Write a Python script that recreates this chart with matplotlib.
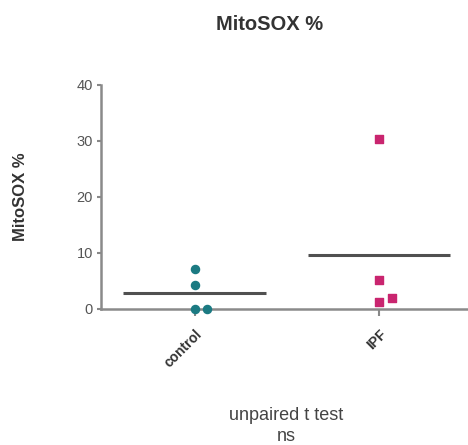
import numpy as np
import matplotlib.pyplot as plt

plt.rcParams['font.family'] = ['Liberation Sans', 'DejaVu Sans']

groups = ["control", "IPF"]
control_vals = [7.2, 4.2, 0.0, 0.0]
ipf_vals = [30.3, 5.1, 1.2, 1.9]
# horizontal scatter so overlapping points stay visible
control_jit = [0.0, 0.0, 0.0, 0.065]
ipf_jit = [0.0, 0.0, 0.0, 0.07]

fig = plt.figure(figsize=(4.68, 4.45), dpi=100)
ax = fig.add_axes([0.216, 0.306, 0.784, 0.503])

teal = "#1b7a82"
pink = "#c9256f"
ax.scatter(np.array(control_jit) + 0, control_vals, marker="o", s=34, color=teal, zorder=3, clip_on=False)
ax.scatter(np.array(ipf_jit) + 1, ipf_vals, marker="s", s=34, color=pink, zorder=3, clip_on=False)

for i, vals in enumerate([control_vals, ipf_vals]):
    m = np.mean(vals)
    ax.hlines(m, i - 0.39, i + 0.385, color="#505050", lw=2.2, zorder=2)

ax.set_xlim(-0.51, 1.48)
ax.set_ylim(0, 40)
ax.set_yticks([0, 10, 20, 30, 40])
ax.set_xticks([0, 1])
ax.set_xticklabels(groups, rotation=45, ha="right", rotation_mode="anchor",
                   fontsize=10, fontweight="bold", color="#333333")
ax.tick_params(axis="y", labelsize=10.5, labelcolor="#555555", color="#888888",
               width=1.5, length=3, pad=3)
ax.tick_params(axis="x", color="#888888", width=1.5, length=5, pad=8)

for s in ["top", "right"]:
    ax.spines[s].set_visible(False)
for s in ["left", "bottom"]:
    ax.spines[s].set_color("#8a8a8a")
    ax.spines[s].set_linewidth(1.8)

fig.text(0.043, 0.557, "MitoSOX %", rotation=90, ha="center", va="center",
         fontsize=12, fontweight="bold", color="#333333")
fig.text(0.575, 0.944, "MitoSOX %", ha="center", va="center",
         fontsize=14.5, fontweight="bold", color="#333333")
fig.text(0.612, 0.067, "unpaired t test", ha="center", va="center", fontsize=13, color="#444444")
fig.text(0.612, 0.02, "ns", ha="center", va="center", fontsize=13, color="#444444")

fig.savefig("out.png", dpi=100)
